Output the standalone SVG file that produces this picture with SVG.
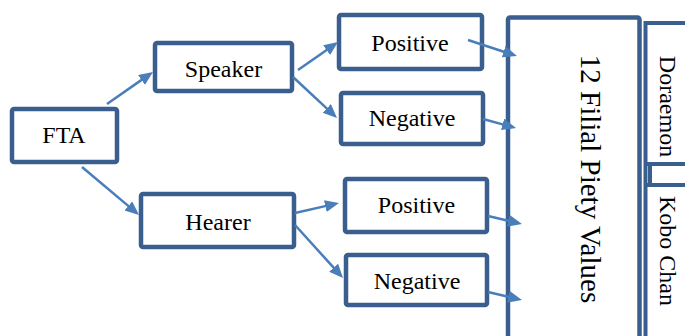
<svg xmlns="http://www.w3.org/2000/svg" width="685" height="336" viewBox="0 0 685 336">
<style>
.box{fill:#fff;stroke:#3a5f8e;stroke-width:4.5}
.t{font-family:"Liberation Serif","Times New Roman",serif;font-size:24px;fill:#000;text-anchor:middle}
.c{stroke:#4a7ebb;stroke-width:2.5;fill:none;marker-end:url(#ah)}
.ln{stroke:#3a5f8e;stroke-width:4.5;fill:none}
</style>
<defs>
<marker id="ah" markerUnits="userSpaceOnUse" markerWidth="16" markerHeight="13" refX="1" refY="6" orient="auto">
<path d="M0,0 L14,6 L0,12 z" fill="#4a7ebb"/>
</marker>
</defs>
<rect width="685" height="336" fill="#fff"/>
<g id="fta"><rect class="box" x="12" y="109" width="105" height="53" rx="2"/><text class="t" x="64" y="143">FTA</text></g>
<g id="speaker"><rect class="box" x="155" y="43" width="137" height="48" rx="2"/><text class="t" x="223.5" y="77">Speaker</text></g>
<g id="hearer"><rect class="box" x="141" y="194" width="153" height="53" rx="2"/><text class="t" x="218" y="230">Hearer</text></g>
<g id="pos1"><rect class="box" x="339" y="15" width="143" height="54" rx="2"/><text class="t" x="410" y="51">Positive</text></g>
<g id="neg1"><rect class="box" x="341" y="93" width="142" height="51" rx="2"/><text class="t" x="412" y="126">Negative</text></g>
<g id="pos2"><rect class="box" x="345" y="179" width="142" height="53" rx="2"/><text class="t" x="416.5" y="213">Positive</text></g>
<g id="neg2"><rect class="box" x="346" y="255" width="141" height="50" rx="2"/><text class="t" x="417" y="289">Negative</text></g>
<g id="values"><rect class="box" x="508" y="17.5" width="131.5" height="340" rx="2"/><text class="t" style="font-size:29px" transform="translate(581,179) rotate(90)" x="0" y="0">12 Filial Piety Values</text></g>
<g id="doraemon">
<path class="ln" style="stroke-width:4" d="M645.5,21 V340 M645.5,23 H690 M645.5,164 H690 M650,164 V185 M645.5,185 H690"/>
<text class="t" transform="translate(660,106.5) rotate(90)" x="0" y="0">Doraemon</text>
</g>
<g id="kobo"><text class="t" transform="translate(660,251) rotate(90)" x="0" y="0">Kobo Chan</text></g>
<g id="connectors">
<line class="c" x1="107" y1="104" x2="142.3" y2="79.4"/>
<line class="c" x1="82" y1="167" x2="129.1" y2="206.6"/>
<line class="c" x1="298" y1="70" x2="327.4" y2="49.5"/>
<line class="c" x1="293" y1="77" x2="327.5" y2="109.1"/>
<line class="c" x1="295" y1="213" x2="326.3" y2="205.9"/>
<line class="c" x1="295" y1="225" x2="334.3" y2="268.4"/>
<line class="c" x1="468" y1="40" x2="504.6" y2="52"/>
<line class="c" x1="483" y1="119" x2="503.5" y2="124.6"/>
<line class="c" x1="488" y1="216" x2="509.3" y2="221"/>
<line class="c" x1="488" y1="292" x2="509.3" y2="297"/>
</g>
</svg>
